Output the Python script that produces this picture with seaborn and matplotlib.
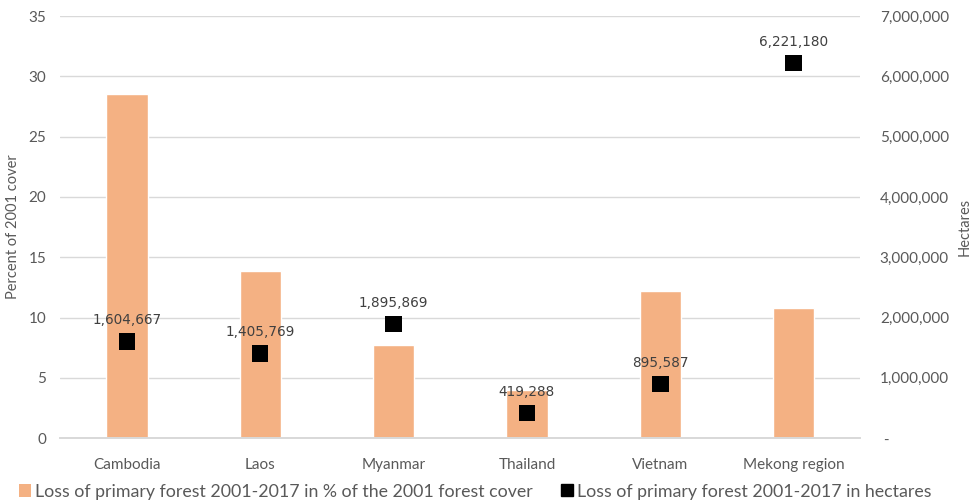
import pandas as pd
import seaborn as sns
import matplotlib.pyplot as plt
import matplotlib.ticker as mticker
from matplotlib.patches import Patch
from matplotlib.lines import Line2D

countries = ['Cambodia', 'Laos', 'Myanmar', 'Thailand', 'Vietnam', 'Mekong region']
pct_loss = [28.5, 13.9, 7.7, 4.0, 12.2, 10.8]
ha_loss = [1604667, 1405769, 1895869, 419288, 895587, 6221180]

BAR_COLOR = '#F4B183'
TEXT_COLOR = '#595959'
GRID_COLOR = '#D9D9D9'

sns.set_theme(style='white')
plt.rcParams['font.family'] = ['Lato', 'DejaVu Sans']

df = pd.DataFrame({'country': countries, 'pct': pct_loss, 'ha': ha_loss})

fig = plt.figure(figsize=(9.7, 5.03), dpi=100)
ax = fig.add_axes([0.062, 0.129, 0.825, 0.839])
ax2 = ax.twinx()

sns.barplot(data=df, x='country', y='pct', color=BAR_COLOR, width=0.31,
            saturation=1, ax=ax, zorder=2)
sns.scatterplot(data=df, x='country', y='ha', marker='s', s=140,
                color='black', edgecolor='none', ax=ax2, zorder=3)

# left axis
ax.set_ylim(0, 35)
ax.set_yticks(range(0, 36, 5))
ax.yaxis.grid(True, color=GRID_COLOR, linewidth=1)
ax.set_axisbelow(True)
ax.set_xlabel('')
ax.set_ylabel('Percent of 2001 cover', color=TEXT_COLOR, fontsize=10.5,
              labelpad=6)
ax.set_xlim(-0.5, len(countries) - 0.5)

# right axis
ax2.set_ylim(0, 7000000)
ax2.set_yticks(range(0, 7000001, 1000000))
ax2.yaxis.set_major_formatter(mticker.FuncFormatter(
    lambda v, p: ' -' if v == 0 else f'{int(v):,}'))
ax2.set_ylabel('Hectares', color=TEXT_COLOR, fontsize=10.5, labelpad=6)

for a in (ax, ax2):
    for side in ('top', 'left', 'right'):
        a.spines[side].set_visible(False)
    a.spines['bottom'].set_color(GRID_COLOR)
    a.tick_params(axis='both', length=0, labelsize=11, colors=TEXT_COLOR)
ax.tick_params(axis='y', pad=10)
ax2.tick_params(axis='y', pad=14)
ax.tick_params(axis='x', pad=14)

# data labels above the markers
for i, v in enumerate(ha_loss):
    ax2.annotate(f'{v:,}', (i, v), xytext=(0, 10), textcoords='offset points',
                 ha='center', va='bottom', fontsize=9.8, color='#404040',
                 family='DejaVu Sans')

handles = [
    Patch(facecolor=BAR_COLOR, edgecolor='none'),
    Line2D([], [], marker='s', color='black', linestyle='none', markersize=9),
]
labels = ['Loss of primary forest 2001-2017 in % of the 2001 forest cover',
          'Loss of primary forest 2001-2017 in hectares']
fig.legend(handles, labels, loc='lower center', bbox_to_anchor=(0.49, -0.025),
           ncol=2, frameon=False, fontsize=12.8, handlelength=0.7,
           handleheight=0.7, handletextpad=0.2, columnspacing=1.6,
           labelcolor=TEXT_COLOR)

fig.savefig('out.png', dpi=100, facecolor='white')
